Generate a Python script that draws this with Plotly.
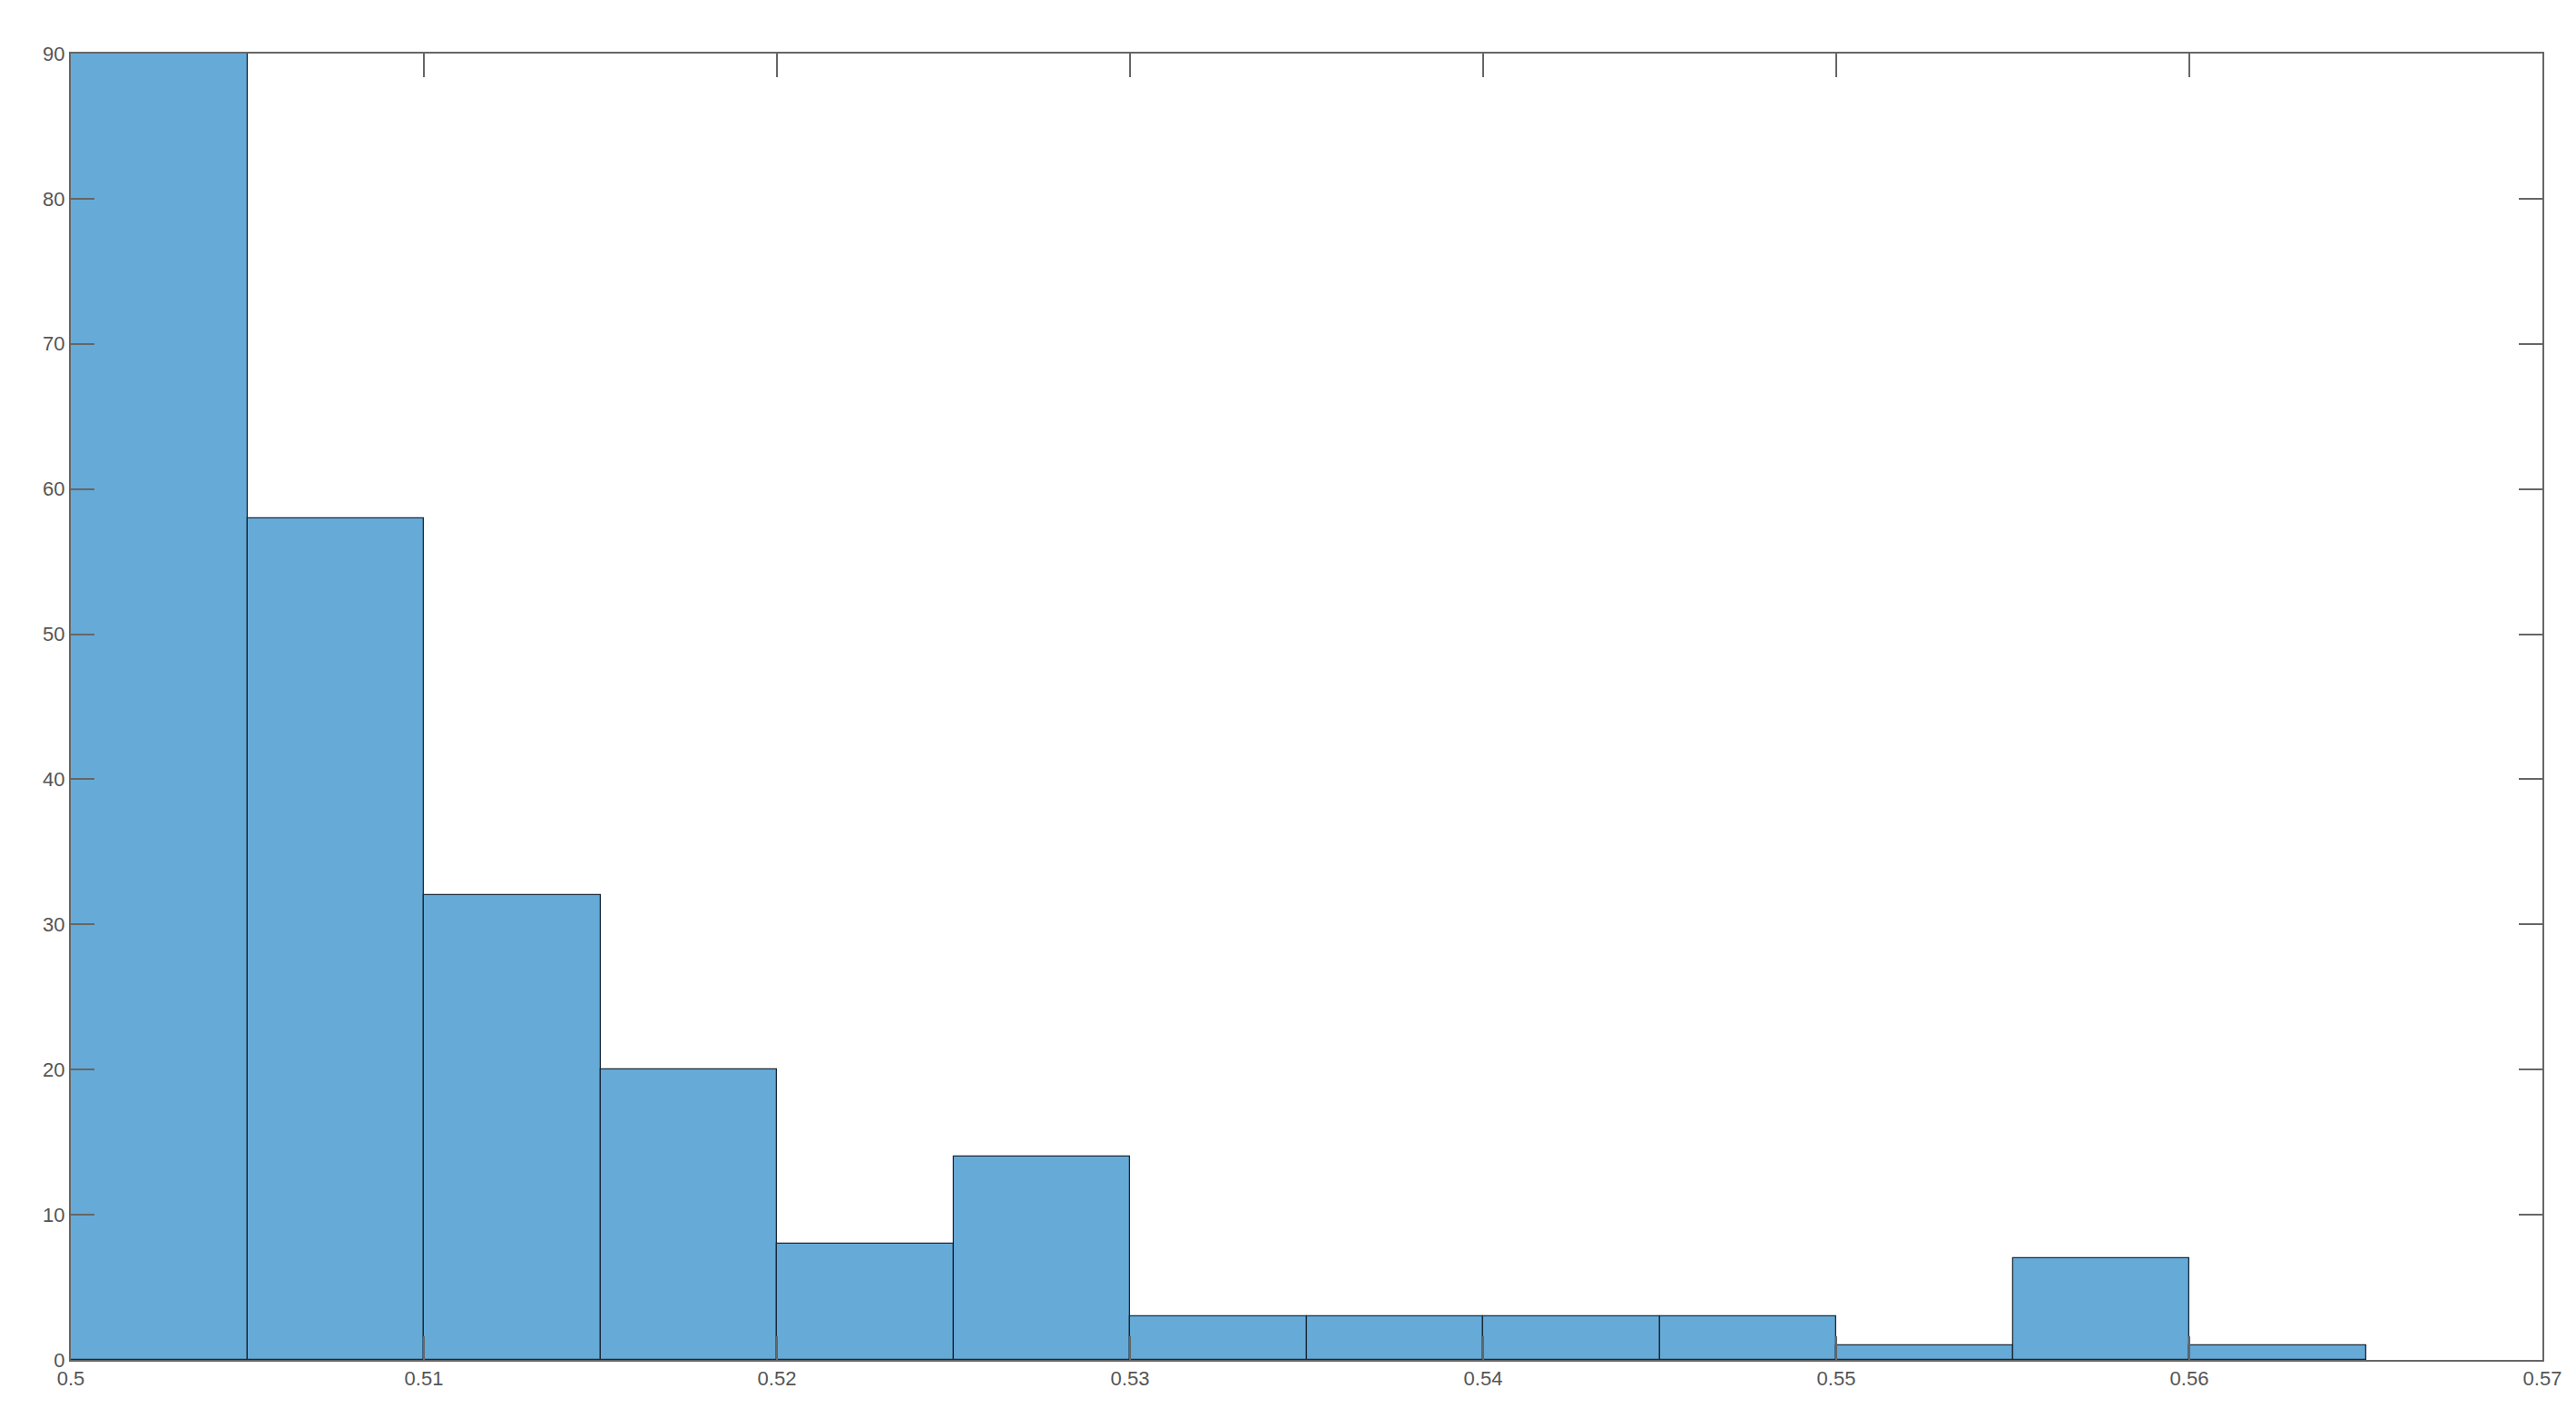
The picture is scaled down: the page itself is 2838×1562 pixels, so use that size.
import plotly.graph_objects as go

bin_edges = [0.500, 0.505, 0.510, 0.515, 0.520, 0.525, 0.530, 0.535, 0.540, 0.545, 0.550, 0.555, 0.560, 0.565]
counts = [90, 58, 32, 20, 8, 14, 3, 3, 3, 3, 1, 7, 1]
x_ticks = [0.5, 0.51, 0.52, 0.53, 0.54, 0.55, 0.56, 0.57]
x_tick_labels = ["0.5", "0.51", "0.52", "0.53", "0.54", "0.55", "0.56", "0.57"]
y_ticks = [0, 10, 20, 30, 40, 50, 60, 70, 80, 90]

centers = [(a + b) / 2 for a, b in zip(bin_edges[:-1], bin_edges[1:])]
widths = [b - a for a, b in zip(bin_edges[:-1], bin_edges[1:])]

fig = go.Figure(go.Bar(
    x=centers, y=counts, width=widths,
    marker=dict(color="#66AAD7", line=dict(color="#1a2a3a", width=1.3)),
    hoverinfo="skip",
))

W, H = 2838, 1562
left, right, top, bottom = 70, 2793, 51, 1490
font = dict(family="Liberation Sans, Arial, sans-serif", size=22, color="#555555")

fig.update_layout(
    width=W, height=H,
    margin=dict(l=left, r=W - right, t=top, b=H - bottom, autoexpand=False),
    paper_bgcolor="white", plot_bgcolor="white",
    showlegend=False, bargap=0,
    font=font,
)
fig.update_xaxes(
    range=[0.5, 0.57], tickvals=x_ticks, ticktext=x_tick_labels,
    ticks="inside", ticklen=26, tickwidth=2, tickcolor="#666666",
    showline=True, linecolor="#666666", linewidth=2, mirror="ticks",
    showgrid=False, zeroline=False, tickfont=font,
)
fig.update_yaxes(
    range=[0, 90], tickvals=y_ticks,
    ticks="inside", ticklen=26, tickwidth=2, tickcolor="#666666",
    showline=True, linecolor="#666666", linewidth=2, mirror="ticks",
    showgrid=False, zeroline=False, tickfont=font,
)

fig.write_html("out.html")
